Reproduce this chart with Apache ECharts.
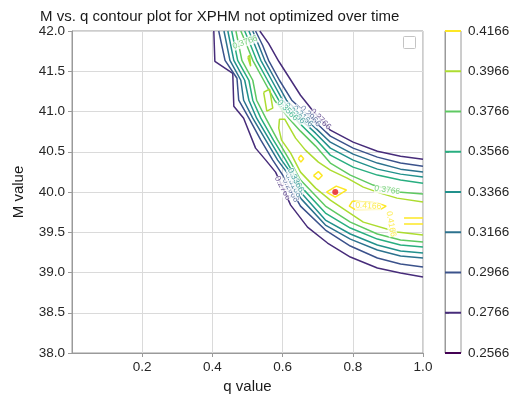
<!DOCTYPE html>
<html>
<head>
<meta charset="utf-8">
<script src="https://cdn.jsdelivr.net/npm/echarts@6/dist/echarts.min.js"></script>
<style>
  html, body { margin: 0; padding: 0; background: #fff; }
  #chart { width: 522px; height: 401px; }
</style>
</head>
<body>
<div id="chart"></div>
<script>
// contour levels (colorbar ticks)
const levels = ['0.2566', '0.2766', '0.2966', '0.3166', '0.3366', '0.3566', '0.3766', '0.3966', '0.4166'];

// contour lines, [q, M]
const lower2766 = [[0.404, 42.0], [0.407, 41.624], [0.458, 41.475], [0.461, 41.066], [0.489, 40.917], [0.523, 40.545], [0.552, 40.396], [0.580, 40.247], [0.623, 39.837], [0.671, 39.564], [0.728, 39.366], [0.793, 39.192], [0.870, 39.056], [0.936, 38.994], [1.0, 38.944]];
const lower2966 = [[0.418, 42.0], [0.436, 41.636], [0.470, 41.413], [0.475, 41.140], [0.504, 40.917], [0.538, 40.644], [0.572, 40.396], [0.606, 40.172], [0.651, 39.825], [0.722, 39.527], [0.793, 39.329], [0.870, 39.180], [0.936, 39.105], [1.0, 39.068]];
const lower3166 = [[0.433, 42.0], [0.450, 41.636], [0.481, 41.388], [0.489, 41.140], [0.515, 40.917], [0.552, 40.644], [0.586, 40.396], [0.620, 40.197], [0.651, 39.924], [0.722, 39.589], [0.793, 39.415], [0.870, 39.279], [0.936, 39.205], [1.0, 39.180]];
const lower3366 = [[0.444, 42.0], [0.461, 41.636], [0.492, 41.388], [0.504, 41.140], [0.526, 40.917], [0.563, 40.644], [0.597, 40.396], [0.628, 40.210], [0.651, 39.999], [0.722, 39.651], [0.793, 39.478], [0.870, 39.341], [0.936, 39.267], [1.0, 39.242]];
const lower3566 = [[0.455, 42.0], [0.472, 41.636], [0.504, 41.388], [0.515, 41.140], [0.538, 40.917], [0.574, 40.644], [0.609, 40.396], [0.651, 40.073], [0.722, 39.738], [0.793, 39.552], [0.870, 39.415], [0.936, 39.341], [1.0, 39.316]];
const lower3766 = [[0.467, 42.0], [0.484, 41.636], [0.515, 41.388], [0.526, 41.140], [0.552, 40.917], [0.586, 40.644], [0.623, 40.371], [0.651, 40.148], [0.722, 39.825], [0.793, 39.626], [0.870, 39.478], [0.936, 39.403], [1.0, 39.378]];

const upper2766 = [[0.535, 42.0], [0.560, 41.847], [0.589, 41.624], [0.620, 41.413], [0.651, 41.202], [0.685, 41.016], [0.736, 40.768], [0.801, 40.619], [0.870, 40.507], [0.936, 40.445], [1.0, 40.408]];
const upper2966 = [[0.523, 42.0], [0.543, 41.823], [0.560, 41.636], [0.591, 41.388], [0.626, 41.140], [0.651, 41.041], [0.694, 40.867], [0.736, 40.694], [0.801, 40.545], [0.870, 40.433], [0.936, 40.359], [1.0, 40.321]];
const upper3166 = [[0.515, 42.0], [0.532, 41.823], [0.549, 41.636], [0.580, 41.388], [0.611, 41.140], [0.651, 40.966], [0.694, 40.793], [0.736, 40.619], [0.801, 40.470], [0.870, 40.359], [0.936, 40.284], [1.0, 40.247]];
const upper3366 = [[0.504, 42.0], [0.521, 41.823], [0.538, 41.636], [0.569, 41.388], [0.600, 41.140], [0.651, 40.904], [0.694, 40.731], [0.736, 40.545], [0.801, 40.396], [0.870, 40.284], [0.936, 40.222], [1.0, 40.185]];
const upper3566 = [[0.492, 42.0], [0.509, 41.823], [0.526, 41.636], [0.557, 41.388], [0.589, 41.140], [0.651, 40.842], [0.694, 40.657], [0.736, 40.458], [0.801, 40.309], [0.870, 40.210], [0.936, 40.148], [1.0, 40.110]];
const upper3766 = [[0.481, 42.0], [0.498, 41.823], [0.515, 41.636], [0.546, 41.388], [0.577, 41.140], [0.620, 40.904], [0.651, 40.756], [0.694, 40.570], [0.736, 40.359], [0.793, 40.210], [0.858, 40.086], [0.929, 39.999], [1.0, 39.974]];

const band3966 = [[1.0, 39.465], [0.926, 39.502], [0.830, 39.626], [0.736, 39.900], [0.694, 40.048], [0.651, 40.247], [0.623, 40.483], [0.597, 40.644], [0.589, 40.793], [0.591, 40.904], [0.606, 40.904], [0.637, 40.669], [0.665, 40.520], [0.702, 40.371], [0.736, 40.272], [0.784, 40.172], [0.830, 40.061], [0.878, 39.986], [0.926, 39.924], [1.0, 39.875]];
const isle3966a = [[0.501, 41.674], [0.506, 41.699], [0.509, 41.562], [0.504, 41.550], [0.501, 41.674]];
const isle3966b = [[0.546, 41.239], [0.563, 41.277], [0.572, 41.041], [0.555, 41.004], [0.546, 41.239]];

const peak4166a = [[0.645, 40.414], [0.652, 40.458], [0.660, 40.414], [0.652, 40.371], [0.645, 40.414]];
const peak4166b = [[0.688, 40.204], [0.702, 40.253], [0.713, 40.204], [0.702, 40.154], [0.688, 40.204]];
const peak4166c = [[0.725, 39.999], [0.753, 40.073], [0.782, 40.024], [0.750, 39.937], [0.725, 39.999]];
const peak4166d = [[0.799, 39.887], [0.790, 39.825], [0.807, 39.782], [0.878, 39.782], [0.895, 39.825], [0.872, 39.862], [0.799, 39.887]];
const peak4166e = [[0.946, 39.676], [1.0, 39.676]];
const peak4166f = [[0.946, 39.602], [1.0, 39.602]];

// [level index, line]
const contours = [
  [1, lower2766], [1, upper2766],
  [2, lower2966], [2, upper2966],
  [3, lower3166], [3, upper3166],
  [4, lower3366], [4, upper3366],
  [5, lower3566], [5, upper3566],
  [6, lower3766], [6, upper3766],
  [7, band3966], [7, isle3966a], [7, isle3966b],
  [8, peak4166a], [8, peak4166b], [8, peak4166c], [8, peak4166d], [8, peak4166e], [8, peak4166f]
];

// inline contour labels: [q, M, level index, angle]
const contourLabels = [
  [0.708, 40.904, 1, -45],
  [0.679, 40.942, 2, -45],
  [0.657, 40.942, 3, -45],
  [0.634, 40.979, 4, -45],
  [0.614, 41.016, 5, -45],
  [0.600, 40.048, 1, -62],
  [0.623, 40.024, 2, -62],
  [0.631, 40.086, 3, -62],
  [0.637, 40.148, 4, -62],
  [0.898, 40.024, 6, -8],
  [0.844, 39.825, 8, -3],
  [0.909, 39.602, 8, -80],
  [0.493, 41.860, 6, 20]
];

const bestFit = [[0.75, 40.0]];

const viridis = ['#440154', '#472c7a', '#3b528b', '#2c728e', '#21918c', '#28ae80', '#5ec962', '#addc30', '#fde725'];
const FONT = '"Liberation Sans", Arial, sans-serif';
const AXIS_GREY = '#9a9a9a';

const chart = echarts.init(document.getElementById('chart'));

const lineSeries = contours.map(([lvl, pts]) => ({
  type: 'line',
  xAxisIndex: 0,
  yAxisIndex: 0,
  data: pts,
  symbol: 'none',
  silent: true,
  z: 2,
  lineStyle: { color: viridis[lvl], width: 1.5 }
}));

const option = {
  animation: false,
  title: {
    text: 'M vs. q contour plot for XPHM not optimized over time',
    left: 35,
    top: 4,
    textStyle: { fontFamily: FONT, fontSize: 15, fontWeight: 'normal', color: '#1a1a1a' }
  },
  grid: [
    { left: 72, right: 99, top: 31, bottom: 48, show: true, borderColor: AXIS_GREY, borderWidth: 1, backgroundColor: '#fff' },
    { left: 445, top: 31, width: 16, height: 322, show: true, borderColor: AXIS_GREY, borderWidth: 1, backgroundColor: '#fff' }
  ],
  xAxis: [
    {
      gridIndex: 0, type: 'value', min: 0, max: 1, interval: 0.2,
      name: 'q value', nameLocation: 'middle', nameGap: 26,
      nameTextStyle: { fontFamily: FONT, fontSize: 15, color: '#1a1a1a' },
      axisLine: { show: true, onZero: false, lineStyle: { color: AXIS_GREY } },
      axisTick: { show: true, length: 4, lineStyle: { color: AXIS_GREY } },
      axisLabel: { showMinLabel: false, formatter: v => v.toFixed(1), fontFamily: FONT, fontSize: 13.5, color: '#262626', margin: 7 },
      splitLine: { show: true, lineStyle: { color: '#dadada', width: 1 } }
    },
    { gridIndex: 1, type: 'value', min: 0, max: 1, show: false }
  ],
  yAxis: [
    {
      gridIndex: 0, type: 'value', min: 38, max: 42, interval: 0.5,
      name: 'M value', nameLocation: 'middle', nameGap: 46,
      nameTextStyle: { fontFamily: FONT, fontSize: 15, color: '#1a1a1a' },
      axisLine: { show: true, onZero: false, lineStyle: { color: AXIS_GREY } },
      axisTick: { show: true, length: 4, lineStyle: { color: AXIS_GREY } },
      axisLabel: { formatter: v => v.toFixed(1), fontFamily: FONT, fontSize: 13.5, color: '#262626', margin: 7 },
      splitLine: { show: true, lineStyle: { color: '#dadada', width: 1 } }
    },
    {
      gridIndex: 1, type: 'value', min: 0, max: 8, interval: 1, position: 'right',
      axisLine: { show: true, lineStyle: { color: AXIS_GREY } },
      axisTick: { show: true, length: 4, lineStyle: { color: AXIS_GREY } },
      axisLabel: { formatter: v => levels[v], fontFamily: FONT, fontSize: 13.5, color: '#262626', margin: 7 },
      splitLine: { show: false }
    }
  ],
  graphic: [
    // empty legend frame
    { type: 'rect', left: 403, top: 36, shape: { width: 12, height: 12, r: 1 }, style: { fill: '#fff', stroke: '#c4c4c4', lineWidth: 1 }, z: 10 }
  ],
  series: [
    ...lineSeries,
    {
      type: 'scatter',
      xAxisIndex: 0,
      yAxisIndex: 0,
      symbolSize: 0,
      silent: true,
      z: 5,
      data: contourLabels.map(([q, m, lvl, rot]) => ({
        value: [q, m],
        label: {
          show: true, position: 'inside', formatter: levels[lvl], rotate: rot,
          color: viridis[lvl], fontFamily: FONT, fontSize: 8.5,
          backgroundColor: '#fff', padding: 0
        }
      }))
    },
    {
      type: 'scatter',
      xAxisIndex: 0,
      yAxisIndex: 0,
      data: bestFit,
      symbolSize: 6,
      z: 6,
      itemStyle: { color: '#e8191c' }
    },
    {
      type: 'custom',
      xAxisIndex: 1,
      yAxisIndex: 1,
      data: levels.map((_, i) => [0, i]),
      z: 3,
      renderItem: (params, api) => {
        const i = api.value(1);
        const a = api.coord([0, i]);
        const b = api.coord([1, i]);
        return {
          type: 'line',
          shape: { x1: a[0], y1: a[1], x2: b[0], y2: b[1] },
          style: { stroke: viridis[i], lineWidth: 2 }
        };
      }
    }
  ]
};

chart.setOption(option);
</script>
</body>
</html>
